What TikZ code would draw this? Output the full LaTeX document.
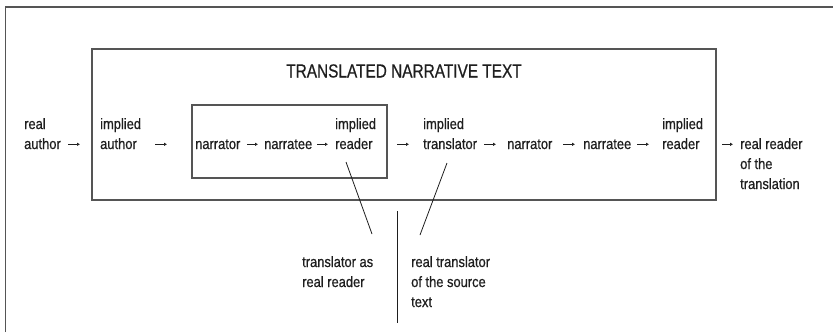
\documentclass[tikz,border=0pt]{standalone}
\usepackage{fontspec}
\usetikzlibrary{arrows.meta}
\newfontfamily\bodyf[FakeStretch=0.86,FakeBold=0.6]{Liberation Sans}
\newfontfamily\titlef[FakeStretch=0.81,FakeBold=0.6]{Liberation Sans}
\definecolor{ink}{HTML}{1E1E1E}
\definecolor{frame}{HTML}{555555}
\newcommand{\twol}[2]{\begin{tabular}[b]{@{}l@{}}#1\\#2\end{tabular}}
\newcommand{\tops}[1]{\begin{tabular}[t]{@{}l@{}}#1\end{tabular}}
\begin{document}
\begin{tikzpicture}[x=1pt,y=-1pt,
  lbl/.style={anchor=base west,inner sep=0pt,text=ink,font={\bodyf\fontsize{15}{20}\selectfont}},
  box/.style={draw=frame,line width=1.8pt},
  arr/.style={draw=ink,line width=0.9pt,-{Latex[length=3pt,width=3.6pt]}},
  pointer/.style={draw=ink,line width=0.8pt},
  ]
\useasboundingbox (0,0) rectangle (833,333);
% outer frame (open to the right and bottom)
\draw[box] (5.5,332) -- (5.5,7) -- (833,7);
% main box and inner box
\node[box,anchor=north west,minimum width=624pt,minimum height=151pt,inner sep=0pt] (main) at (91,48) {};
\node[box,anchor=north west,minimum width=195pt,minimum height=73pt,inner sep=0pt] (inner) at (191,104) {};
% title
\node[anchor=base,inner sep=0pt,text=ink,font={\titlef\fontsize{19}{22}\selectfont}] (title) at (404,77.5) {TRANSLATED NARRATIVE TEXT};
% row labels
\node[lbl] (ra) at (24,149) {\twol{real}{author}};
\node[lbl] (ia) at (100,149) {\twol{implied}{author}};
\node[lbl] (n1) at (195,149) {narrator};
\node[lbl] (e1) at (264,149) {narratee};
\node[lbl] (r1) at (335,149) {\twol{implied}{reader}};
\node[lbl] (it) at (423,149) {\twol{implied}{translator}};
\node[lbl] (n2) at (507,149) {narrator};
\node[lbl] (e2) at (583,149) {narratee};
\node[lbl] (r2) at (662,149) {\twol{implied}{reader}};
\node[lbl] (rr) at (740,149) {\tops{real reader\\of the\\translation}};
% bottom labels
\node[lbl] (tr) at (302,267) {\tops{translator as\\real reader}};
\node[lbl] (rt) at (411,267) {\tops{real translator\\of the source\\text}};
% arrows
\draw[arr] ([xshift=44pt,yshift=4.7pt]ra.base west) -- ([xshift=-20pt,yshift=4.7pt]ia.base west);
\draw[arr] ([xshift=55pt,yshift=4.7pt]ia.base west) -- ([xshift=-28pt,yshift=4.7pt]n1.base west);
\draw[arr] ([xshift=52pt,yshift=4.7pt]n1.base west) -- ([xshift=-6pt,yshift=4.7pt]e1.base west);
\draw[arr] ([xshift=53pt,yshift=4.7pt]e1.base west) -- ([xshift=-7pt,yshift=4.7pt]r1.base west);
\draw[arr] ([xshift=62pt,yshift=4.7pt]r1.base west) -- ([xshift=-14pt,yshift=4.7pt]it.base west);
\draw[arr] ([xshift=61pt,yshift=4.7pt]it.base west) -- ([xshift=-11pt,yshift=4.7pt]n2.base west);
\draw[arr] ([xshift=56pt,yshift=4.7pt]n2.base west) -- ([xshift=-8pt,yshift=4.7pt]e2.base west);
\draw[arr] ([xshift=54pt,yshift=4.7pt]e2.base west) -- ([xshift=-13pt,yshift=4.7pt]r2.base west);
\draw[arr] ([xshift=60pt,yshift=4.7pt]r2.base west) -- ([xshift=-7pt,yshift=4.7pt]rr.base west);
% pointer lines
\draw[pointer] ([xshift=11pt,yshift=-13pt]r1.base west) -- ([xshift=70pt,yshift=33pt]tr.base west);
\draw[pointer] ([xshift=24pt,yshift=-14pt]it.base west) -- ([xshift=9pt,yshift=32pt]rt.base west);
% divider
\coordinate (divtop) at (397,211);
\coordinate (divbot) at (397,323);
\draw[ink,line width=1pt] (divtop) -- (divbot);
\end{tikzpicture}
\end{document}
